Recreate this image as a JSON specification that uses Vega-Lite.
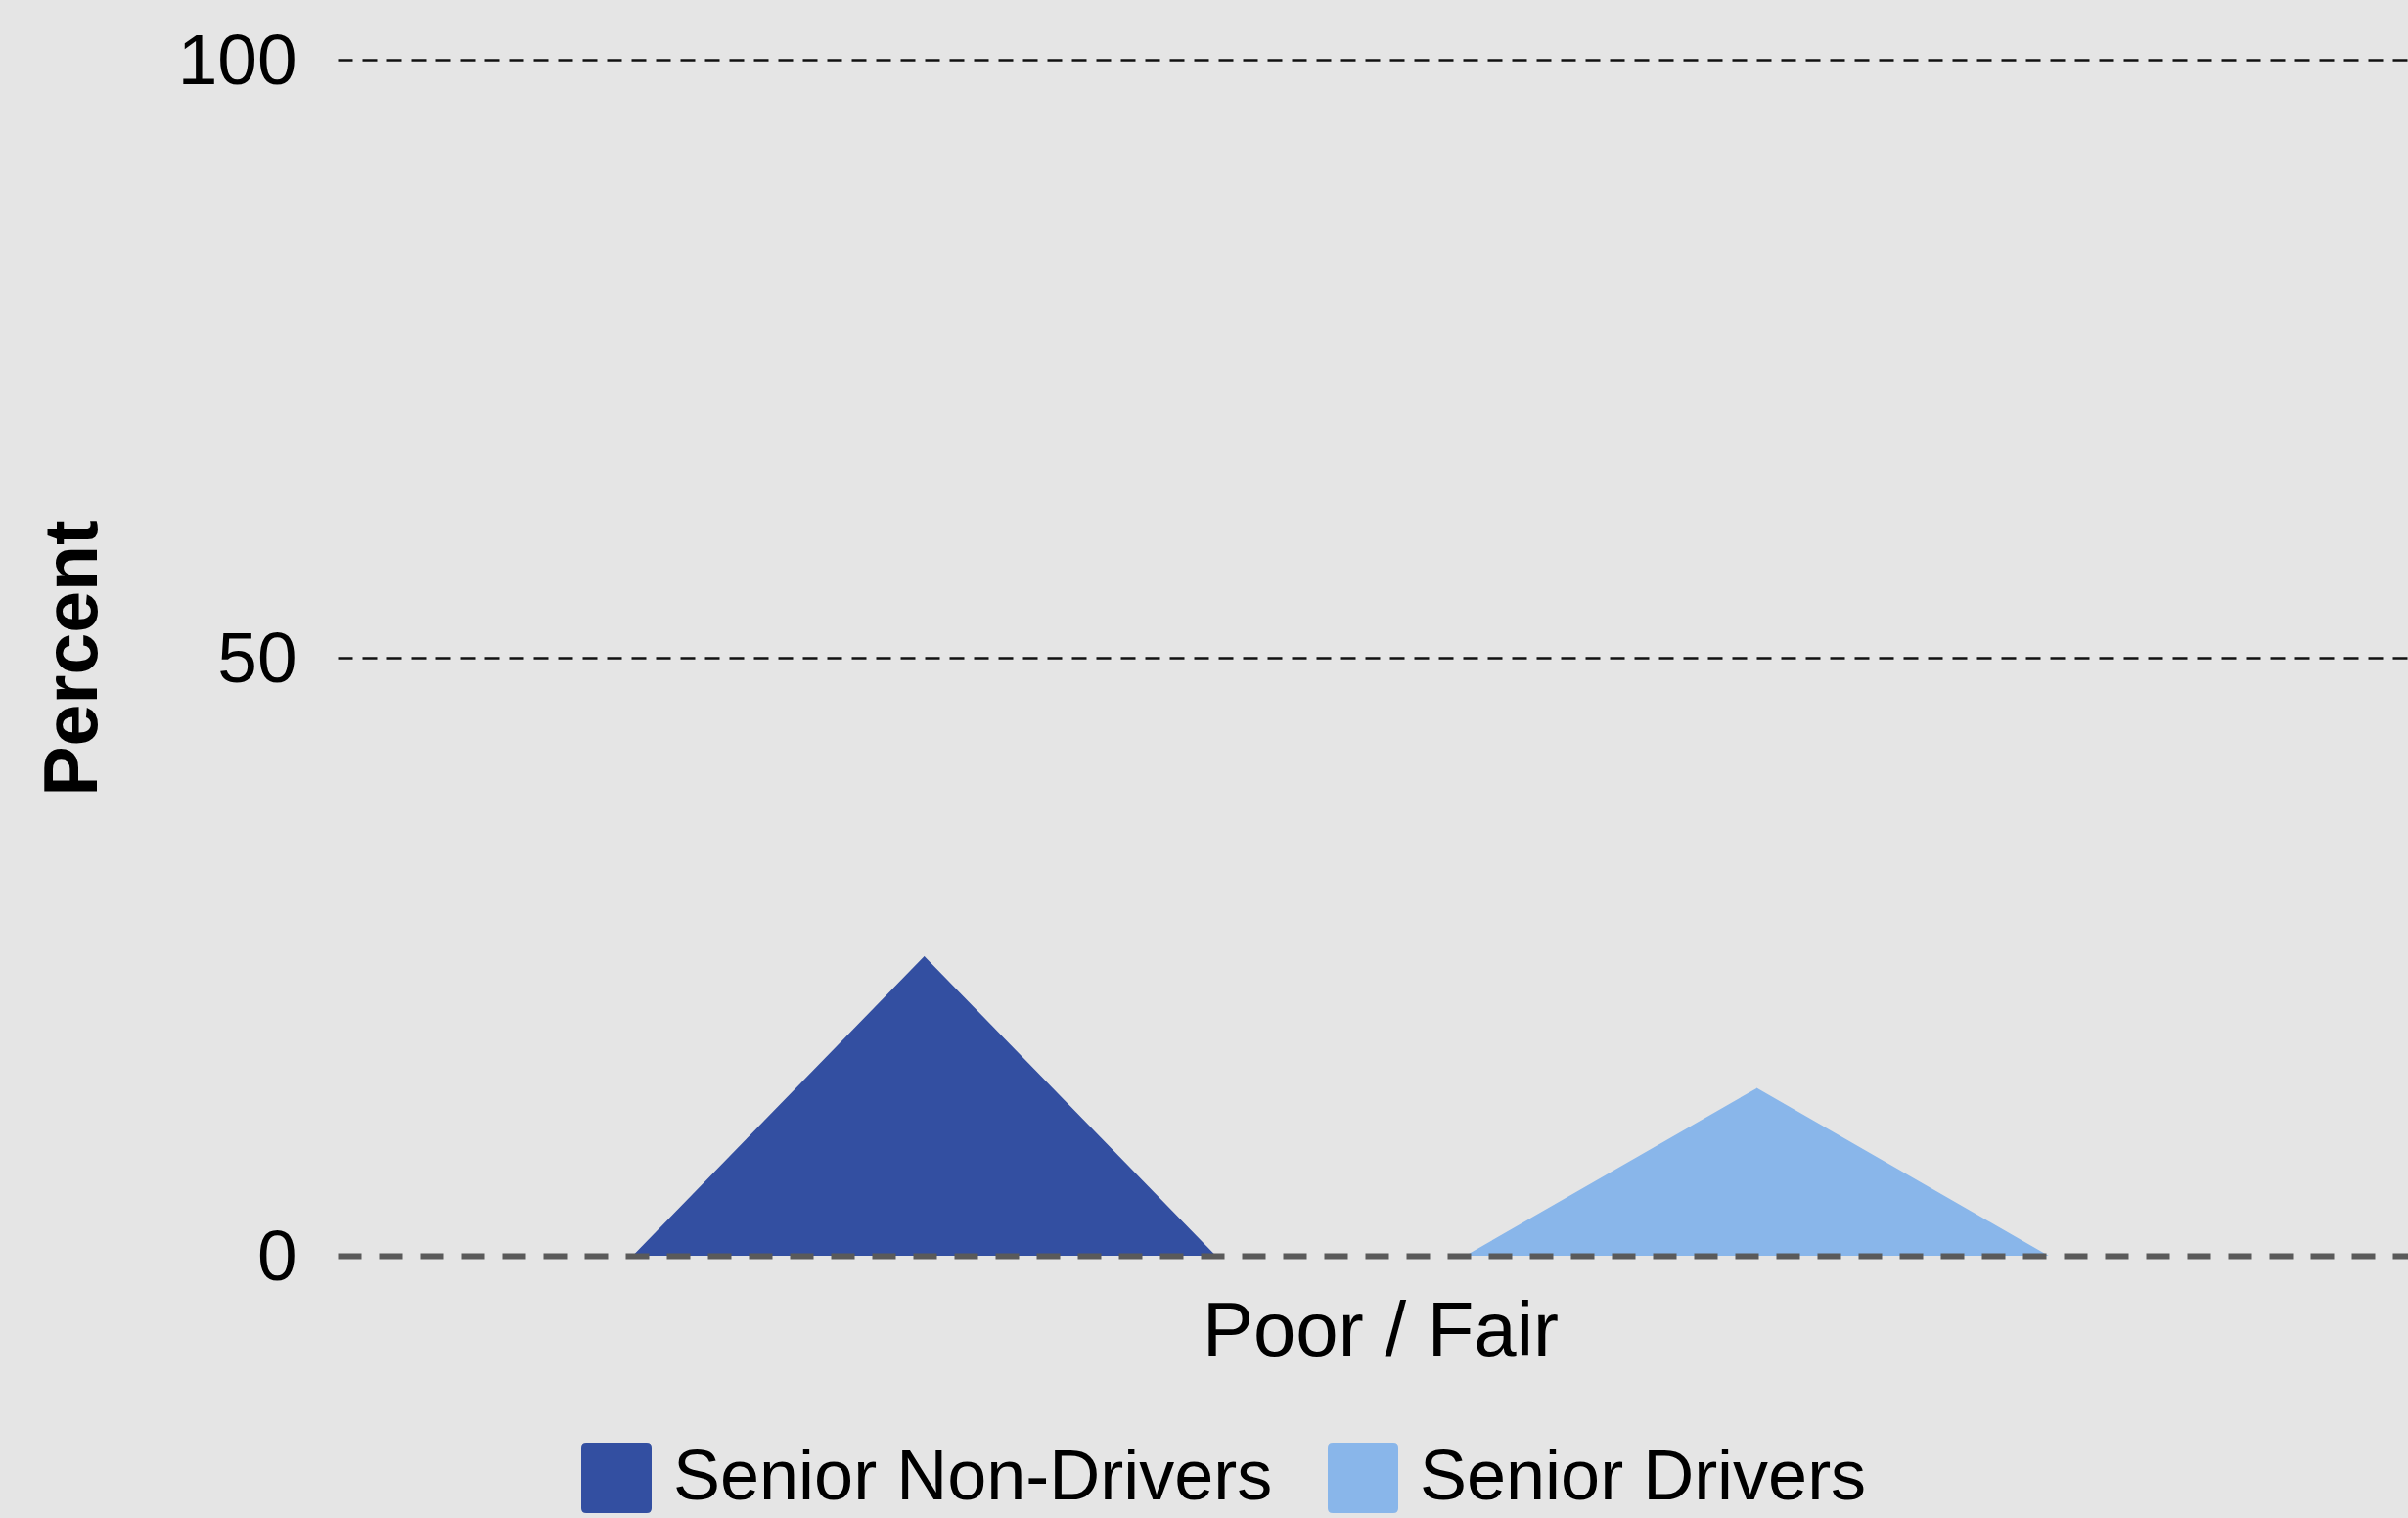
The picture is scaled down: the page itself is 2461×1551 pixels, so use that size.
{
  "$schema": "https://vega.github.io/schema/vega-lite/v6.json",
  "width": 2116,
  "height": 1222,
  "autosize": {"type": "none"},
  "padding": {"left": 345, "top": 61, "right": 0, "bottom": 268},
  "background": "#e5e5e5",
  "config": {"view": {"stroke": null}, "font": "Liberation Sans"},
  "data": {
    "values": [
      {"rating": "Poor / Fair", "group": "Senior Non-Drivers", "percent": 25},
      {"rating": "Poor / Fair", "group": "Senior Drivers", "percent": 14}
    ]
  },
  "encoding": {
    "x": {
      "field": "rating",
      "type": "nominal",
      "scale": {"paddingInner": 0, "paddingOuter": 0.00381, "align": 1},
      "axis": {"title": null, "labelFontSize": 78, "labelColor": "black", "labelPadding": 39, "labelLimit": 0, "ticks": false, "domain": false, "labelAngle": 0, "grid": false}
    },
    "y": {
      "field": "value",
      "type": "quantitative",
      "scale": {"domain": [0, 100]},
      "axis": {
        "values": [0, 50, 100],
        "title": "Percent",
        "titleFontSize": 77,
        "titleFontWeight": "bold",
        "titleColor": "black",
        "titleX": -247,
        "titleY": 611,
        "titleAngle": -90,
        "titleAlign": "center",
        "titleBaseline": "alphabetic",
        "labelFontSize": 73,
        "labelColor": "black",
        "labelPadding": 42,
        "labelOffset": 2,
        "ticks": false,
        "domain": false,
        "grid": true,
        "gridOpacity": 1,
        "gridColor": {"condition": {"test": "datum.value === 0", "value": "#5a5a5a"}, "value": "#111111"},
        "gridWidth": {"condition": {"test": "datum.value === 0", "value": 6}, "value": 2.5},
        "gridDash": {"condition": {"test": "datum.value === 0", "value": [24, 18]}, "value": [15, 10]},
        "zindex": 1
      }
    }
  },
  "resolve": {"legend": {"color": "independent"}},
  "layer": [
    {
      "transform": [
        {"fold": ["percent"], "as": ["point", "value"]},
        {"impute": "value", "key": "point", "keyvals": ["base"], "groupby": ["rating", "group"], "value": 0}
      ],
      "mark": {"type": "trail", "clip": true},
      "encoding": {
        "xOffset": {
          "field": "group",
          "type": "nominal",
          "sort": ["Senior Non-Drivers", "Senior Drivers"],
          "scale": {"padding": 0.7338, "align": 0.4673}
        },
        "color": {
          "field": "group",
          "type": "nominal",
          "scale": {"domain": ["Senior Non-Drivers", "Senior Drivers"], "range": ["#334fa1", "#89b6ea"]},
          "legend": null
        },
        "size": {
          "field": "point",
          "type": "ordinal",
          "scale": {"domain": ["percent", "base"], "range": [0, 596]},
          "legend": null
        }
      }
    },
    {
      "transform": [
        {"fold": ["percent"], "as": ["point", "value"]}
      ],
      "mark": {"type": "point", "shape": "square", "filled": true, "opacity": 0},
      "encoding": {
        "color": {
          "field": "group",
          "type": "nominal",
          "scale": {"domain": ["Senior Non-Drivers", "Senior Drivers"], "range": ["#334fa1", "#89b6ea"]},
          "legend": {
            "orient": "none",
            "legendX": 249,
            "legendY": 1413,
            "direction": "horizontal",
            "columns": 2,
            "title": null,
            "symbolType": "M-0.86,-1H0.86Q1,-1 1,-0.86V0.86Q1,1 0.86,1H-0.86Q-1,1 -1,0.86V-0.86Q-1,-1 -0.86,-1Z",
            "symbolSize": 5184,
            "symbolStrokeWidth": 0,
            "symbolOpacity": 1,
            "labelFontSize": 72,
            "labelColor": "black",
            "labelOffset": 22,
            "labelLimit": 0,
            "columnPadding": 56,
            "padding": 0
          }
        }
      }
    }
  ]
}
